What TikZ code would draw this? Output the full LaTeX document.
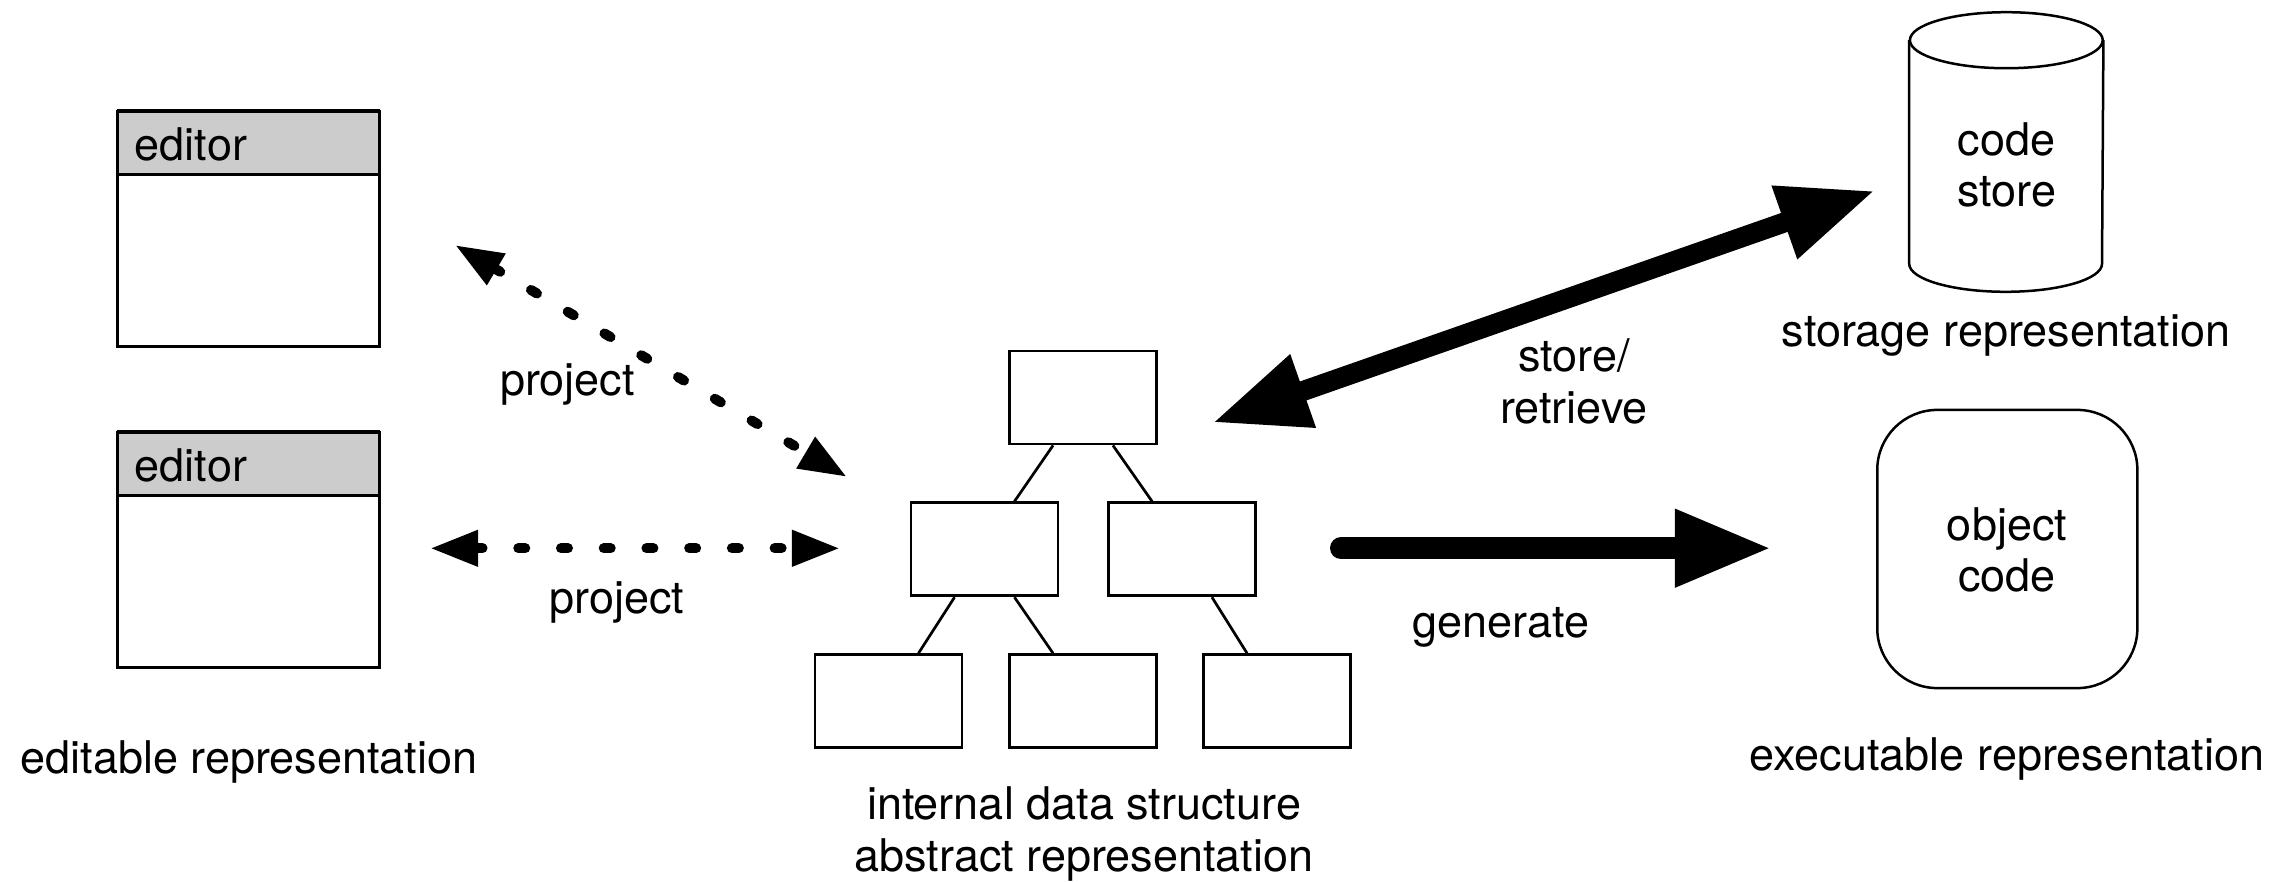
\documentclass[tikz,border=0pt]{standalone}
\usepackage{fontspec}
\setmainfont{TeX Gyre Heros}
\usetikzlibrary{arrows.meta,calc}
\definecolor{hdrgray}{HTML}{CCCCCC}

\begin{document}
\begin{tikzpicture}[x=0.01cm,y=-0.01cm,
  lbl/.style={inner sep=0pt, font=\fontsize{12.8}{14.65}\selectfont, align=center},
  hair/.style={line width=0.027cm},
  treebox/.style={draw, hair, minimum width=1.468cm, minimum height=0.93cm, inner sep=0pt},
  edbox/.style={minimum width=2.61cm, minimum height=2.34cm, inner sep=0pt},
  dotarrow/.style={line width=0.1cm, line cap=round, dash pattern=on 0.07cm off 0.357cm, {Triangle[length=0.48cm,width=0.34cm]}-{Triangle[length=0.48cm,width=0.34cm]}},
  bigarrow/.style={line width=0.2cm},
]
\useasboundingbox (0,0) rectangle (2294,882);

% ---- editors ----
\foreach \n/\yc in {ed1/229, ed2/550}{
  \node[edbox] (\n) at (248.5,\yc) {};
  \fill[hdrgray] (\n.north west) rectangle ($(\n.north east)+(0,63)$);
  \draw[hair] ($(\n.north west)+(0,63)$) -- ($(\n.north east)+(0,63)$);
  \draw[hair] (\n.north west) rectangle (\n.south east);
  \draw[line width=0.04cm] (\n.north west) -- (\n.north east);
  \node[lbl, anchor=base west] at ($(\n.north west)+(17,49)$) {editor};
}
\node[lbl, anchor=base] (labedit) at (249,773) {editable representation};

% ---- tree ----
\node[treebox] (top)  at (1083,397.5) {};
\node[treebox] (midL) at (984.5,549.3) {};
\node[treebox] (midR) at (1182,549.3) {};
\node[treebox] (botL) at (888.5,701.2) {};
\node[treebox] (botM) at (1083,701.2) {};
\node[treebox] (botR) at (1277,701.2) {};
\draw[hair] ($(top.south west)!0.3!(top.south east)$) -- ($(midL.north west)!0.7!(midL.north east)$);
\draw[hair] ($(top.south west)!0.7!(top.south east)$) -- ($(midR.north west)!0.3!(midR.north east)$);
\draw[hair] ($(midL.south west)!0.3!(midL.south east)$) -- ($(botL.north west)!0.7!(botL.north east)$);
\draw[hair] ($(midL.south west)!0.7!(midL.south east)$) -- ($(botM.north west)!0.3!(botM.north east)$);
\draw[hair] ($(midR.south west)!0.7!(midR.south east)$) -- ($(botR.north west)!0.3!(botR.north east)$);
\node[lbl, anchor=base] (labtree) at (1084,871) {internal data structure\\abstract representation};

% ---- code store (cylinder) ----
\node[minimum width=1.927cm, minimum height=2.78cm, inner sep=0pt] (cyl) at (2006.3,152) {};
\draw[line width=0.025cm] ($(cyl.north west)+(0,28)$) -- ($(cyl.south west)+(0,-28)$)
  arc[start angle=180, end angle=360, x radius=0.9635cm, y radius=0.28cm]
  -- ($(cyl.north east)+(0,28)$);
\draw[line width=0.025cm] ($(cyl.north)+(0,28)$) ellipse[x radius=0.9635cm, y radius=0.28cm];
\node[lbl, anchor=base] (cyltext) at (2006.7,206.7) {code\\store};
\node[lbl, anchor=base] (labstore) at (2006,346) {storage representation};

% ---- object code ----
\node[draw, line width=0.025cm, rounded corners=0.6cm, minimum width=2.6cm, minimum height=2.78cm, inner sep=0pt] (obj) at (2007.3,549) {};
\node[lbl, anchor=base] (objtext) at (2007,591.7) {object\\code};
\node[lbl, anchor=base] (labexec) at (2007,770) {executable representation};

% ---- projections ----
\coordinate (d1a) at (455,245);
\coordinate (d1b) at (847,477);
\draw[dotarrow] (d1a) -- (d1b);
\node[lbl, anchor=base] (labp1) at (567.5,395) {project};
\coordinate (d2a) at (430,548.3);
\coordinate (d2b) at (840,548.3);
\draw[dotarrow] (d2a) -- (d2b);
\node[lbl, anchor=base] (labp2) at (617,613) {project};

% ---- store / retrieve ----
\coordinate (sa) at (1212.5,422.7);
\coordinate (sb) at (1875,190.7);
\draw[bigarrow, {Triangle[length=0.96cm,width=0.72cm]}-{Triangle[length=0.96cm,width=0.72cm]}] (sa) -- (sb);
\node[lbl, anchor=base] (labsr) at (1574,423) {store/\\retrieve};

% ---- generate ----
\coordinate (ga) at (1341,548.2);
\coordinate (gb) at (1772,548.2);
\draw[line width=0.22cm, line cap=round, -{Triangle[length=0.97cm,width=0.72cm]}] (ga) -- (gb);
\node[lbl, anchor=base] (labgen) at (1501,637) {generate};
\end{tikzpicture}
\end{document}
